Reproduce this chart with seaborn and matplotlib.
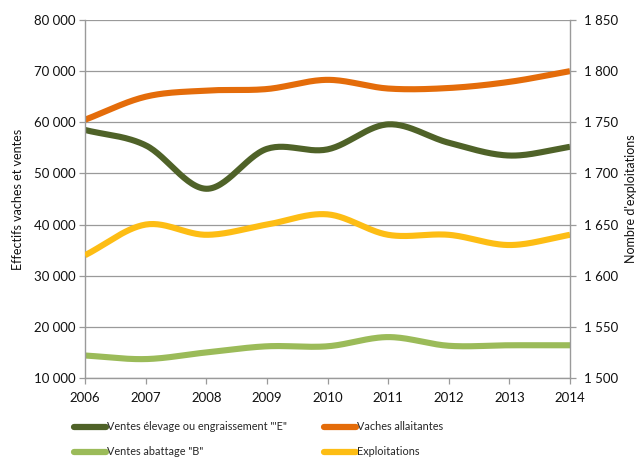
import numpy as np
import pandas as pd
import matplotlib
matplotlib.use("Agg")
import matplotlib.pyplot as plt
from matplotlib.lines import Line2D
from matplotlib.ticker import FuncFormatter
import seaborn as sns

years = [2006, 2007, 2008, 2009, 2010, 2011, 2012, 2013, 2014]
ventes_elevage = [58500, 55500, 47000, 54800, 54700, 59600, 56000, 53500, 55200]
vaches_allaitantes = [60500, 65000, 66200, 66500, 68300, 66600, 66700, 67900, 70000]
ventes_abattage = [14400, 13700, 15000, 16200, 16200, 18000, 16300, 16400, 16400]
exploitations = [1620, 1650, 1640, 1650, 1660, 1640, 1640, 1630, 1640]

label_e = "Ventes élevage ou engraissement \"'E\""
label_v = "Vaches allaitantes"
label_b = "Ventes abattage \"B\""
label_x = "Exploitations"

c_e = "#4f6228"
c_v = "#e46c0a"
c_b = "#9bbb59"
c_x = "#fdbd14"

sns.set_theme(style="white")
plt.rcParams["font.family"] = ["Lato", "DejaVu Sans"]


def smooth(x, y, n=30):
    """Catmull-Rom style curve through the points, like a smoothed spreadsheet line."""
    x = np.asarray(x, float)
    y = np.asarray(y, float)
    px = np.concatenate([[2 * x[0] - x[1]], x, [2 * x[-1] - x[-2]]])
    py = np.concatenate([[2 * y[0] - y[1]], y, [2 * y[-1] - y[-2]]])
    xs, ys = [], []
    for i in range(1, len(px) - 2):
        p0, p1, p2, p3 = (np.array([px[j], py[j]]) for j in (i - 1, i, i + 1, i + 2))
        b1 = p1 + (p2 - p0) / 6
        b2 = p2 - (p3 - p1) / 6
        t = np.linspace(0, 1, n, endpoint=(i == len(px) - 3))[:, None]
        pts = ((1 - t) ** 3) * p1 + 3 * ((1 - t) ** 2) * t * b1 + 3 * (1 - t) * t ** 2 * b2 + t ** 3 * p2
        xs.append(pts[:, 0])
        ys.append(pts[:, 1])
    return pd.DataFrame({"x": np.concatenate(xs), "y": np.concatenate(ys)})


fig = plt.figure(figsize=(6.38, 4.59), dpi=100)
ax = fig.add_axes([85 / 638, 1 - 378 / 459, (570 - 85) / 638, (378 - 20) / 459])
ax2 = ax.twinx()

lw = 4.4
for vals, col in [(ventes_elevage, c_e), (vaches_allaitantes, c_v), (ventes_abattage, c_b)]:
    d = smooth(years, vals)
    sns.lineplot(data=d, x="x", y="y", sort=False, color=col, linewidth=lw,
                 ax=ax, solid_capstyle="butt", legend=False)
d = smooth(years, exploitations)
sns.lineplot(data=d, x="x", y="y", sort=False, color=c_x, linewidth=lw,
             ax=ax2, solid_capstyle="butt", legend=False)

ax.set_xlim(2006, 2014)
ax.set_ylim(10000, 80000)
ax2.set_ylim(1500, 1850)
ax.set_xticks(years)
ax.set_yticks(np.arange(10000, 80001, 10000))
ax2.set_yticks(np.arange(1500, 1851, 50))

fmt = FuncFormatter(lambda v, p: f"{int(v):,}".replace(",", " "))
ax.yaxis.set_major_formatter(fmt)
ax2.yaxis.set_major_formatter(fmt)

ax.grid(axis="y", color="#9a9a9a", linewidth=0.9)
ax.grid(axis="x", visible=False)
ax2.grid(False)
ax.set_axisbelow(True)

gcol = "#9a9a9a"
for a in (ax, ax2):
    a.spines["top"].set_visible(False)
    for s in ("left", "right", "bottom"):
        a.spines[s].set_color(gcol)
        a.spines[s].set_linewidth(1.0)
ax.spines["right"].set_visible(False)
ax2.spines["left"].set_visible(False)
ax2.spines["bottom"].set_visible(False)

ax.tick_params(axis="both", direction="out", length=4, width=0.9, color=gcol,
               labelsize=9.5, labelcolor="#111111", pad=3)
ax.tick_params(axis="x", pad=6)
ax2.tick_params(axis="y", direction="out", length=4, width=0.9, color=gcol,
                labelsize=9.5, labelcolor="#111111", pad=6)
ax.tick_params(axis="y", left=True)
ax.tick_params(axis="x", bottom=True)
ax2.tick_params(axis="y", right=True)

ax.set_xlabel("")
ax.set_ylabel("Effectifs vaches et ventes", fontsize=9, color="#111111", labelpad=7)
ax2.set_ylabel("Nombre d'exploitations", fontsize=9, color="#111111", labelpad=5)

handles = [Line2D([], [], color=c_e, lw=4.5), Line2D([], [], color=c_b, lw=4.5),
           Line2D([], [], color=c_v, lw=4.5), Line2D([], [], color=c_x, lw=4.5)]
labels = [label_e, label_b, label_v, label_x]
fig.legend(handles, labels, ncol=2, loc="upper left", bbox_to_anchor=(70 / 638, 1 - 417 / 459),
           frameon=False, fontsize=7.8, handlelength=2.9, handletextpad=0.15,
           columnspacing=3.4, labelspacing=1.3, borderaxespad=0)

fig.savefig("out.png", dpi=100)
